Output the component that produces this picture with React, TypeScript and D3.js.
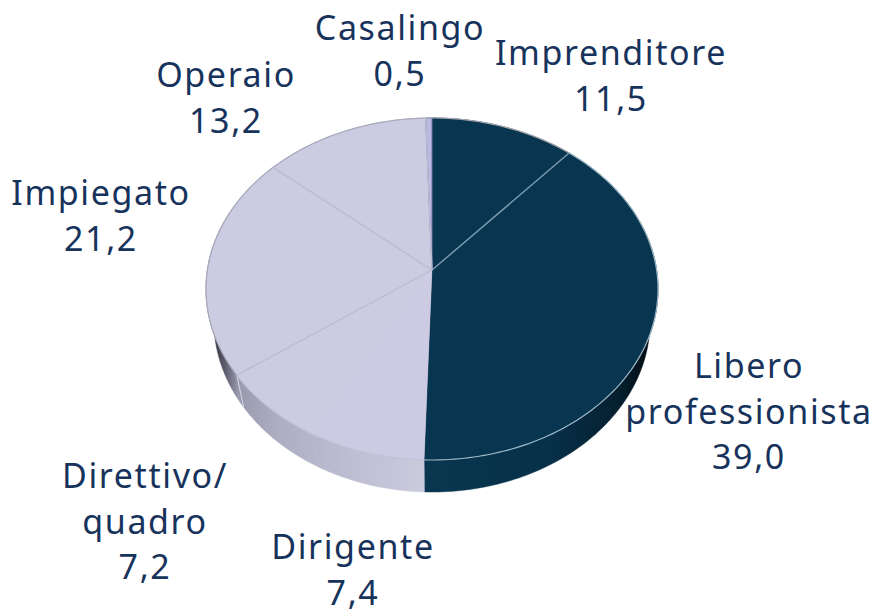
import React from "react";
import * as d3 from "d3";

const categories = ["Imprenditore", "Libero professionista", "Dirigente", "Direttivo/ quadro", "Impiegato", "Operaio", "Casalingo"];
const values = [11.5, 39.0, 7.4, 7.2, 21.2, 13.2, 0.5];
const labelLines = [
  ["Imprenditore", "11,5"],
  ["Libero", "professionista", "39,0"],
  ["Dirigente", "7,4"],
  ["Direttivo/", "quadro", "7,2"],
  ["Impiegato", "21,2"],
  ["Operaio", "13,2"],
  ["Casalingo", "0,5"],
];
const labelAnchors: [number, number][] = [
  [611, 65], [749, 378], [353, 559], [145, 488], [101, 205], [226, 87], [400, 40],
];
const topColors = ["#08354f", "#08354f", "#cdcbe3", "#cbcbe2", "#cbcbe2", "#cbcbe2", "#b9b9e2"];
const sideIds = ["sideDark", "sideDark", "sideLight", "sideLight", "sideLight", "sideLight", "sideLight"];
const rimColors = ["#a4a4ac", "#9db8c8", "#c0c0d4", "#c0c0d4", "#a9a9ba", "#a9a9ba", "#a9a9ba"];
const spokeAfter = [true, false, false, true, true, true, false];
const spokeColors = ["#7d9db2", "", "", "#bcbcd0", "#bcbcd0", "#bcbcd0", ""];

const CX = 432, CY = 270, SX = 224.6, SY = 168.9, K = 1 / 9, DEPTH = 32, BOTTOM_SCALE = 0.965;

// Perspective projection of a point of the pie's unit circle onto the page
const project = (a: number, r = 1): [number, number] => {
  const u = r * Math.sin(a), v = -r * Math.cos(a);
  const d = 1 - K * v;
  return [CX + (SX * u) / d, CY + (SY * v) / d];
};
const lower = ([x, y]: [number, number]): [number, number] => [CX + (x - CX) * BOTTOM_SCALE, y + DEPTH];
const arcPoints = (a0: number, a1: number) => {
  const n = Math.max(2, Math.ceil((a1 - a0) / 0.02));
  return d3.range(n + 1).map((i) => project(a0 + ((a1 - a0) * i) / n));
};
const line = d3.line<[number, number]>();

export default function App() {
  const arcs = d3.pie<number>().sort(null)(values);
  const font = "'Noto Sans', 'Open Sans', sans-serif";
  const seamTop = project(arcs[3].endAngle);
  return (
    <svg width={879} height={611} style={{ position: "absolute", left: 0, top: 0, display: "block", background: "#fff" }}>
      <defs>
        <linearGradient id="sideLight" gradientUnits="userSpaceOnUse" x1={212} x2={432} y1={0} y2={0}>
          <stop offset="0" stopColor="#2f2f3c" />
          <stop offset="0.06" stopColor="#5d5d6e" />
          <stop offset="0.12" stopColor="#9a9aae" />
          <stop offset="0.3" stopColor="#aeaec2" />
          <stop offset="0.6" stopColor="#bdbdd2" />
          <stop offset="1" stopColor="#ccccdf" />
        </linearGradient>
        <linearGradient id="sideDark" gradientUnits="userSpaceOnUse" x1={425} x2={652} y1={0} y2={0}>
          <stop offset="0" stopColor="#09364f" />
          <stop offset="0.55" stopColor="#07304a" />
          <stop offset="0.85" stopColor="#05202f" />
          <stop offset="1" stopColor="#020a10" />
        </linearGradient>
      </defs>
      {arcs.map((d, i) => {
        const top = arcPoints(d.startAngle, d.endAngle);
        const bottom = top.map(lower).reverse();
        return <path key={`side-${i}`} d={line([...top, ...bottom]) + "Z"} fill={`url(#${sideIds[i]})`} stroke={`url(#${sideIds[i]})`} strokeWidth={0.5} />;
      })}
      <path d={line([seamTop, lower(seamTop)])!} stroke="#d6d6e4" strokeWidth={1} fill="none" />
      {arcs.map((d, i) => {
        const rim = arcPoints(d.startAngle, d.endAngle);
        return (
          <path key={`top-${i}`} d={line([[CX, CY], ...rim])! + "Z"} fill={topColors[i]}
            stroke={categories[i] === "Casalingo" ? "#7272aa" : topColors[i]} strokeWidth={categories[i] === "Casalingo" ? 1 : 0.4} />
        );
      })}
      {arcs.map((d, i) => (
        <path key={`rim-${i}`} d={line(arcPoints(d.startAngle, d.endAngle))!} fill="none" stroke={rimColors[i]} strokeWidth={1.2} />
      ))}
      {arcs.map((d, i) =>
        spokeAfter[i] ? (
          <path key={`spoke-${i}`} d={line([[CX, CY], project(d.endAngle)])!} stroke={spokeColors[i]} strokeWidth={1.4} fill="none" />
        ) : null
      )}
      {labelLines.map((lines, i) =>
        lines.map((t, j) => (
          <text key={`${i}-${j}`} x={labelAnchors[i][0]} y={labelAnchors[i][1] + j * 45.5} textAnchor="middle"
            fontFamily={font} fontSize={34} letterSpacing={1.6} fill="#17335c">
            {t}
          </text>
        ))
      )}
    </svg>
  );
}
